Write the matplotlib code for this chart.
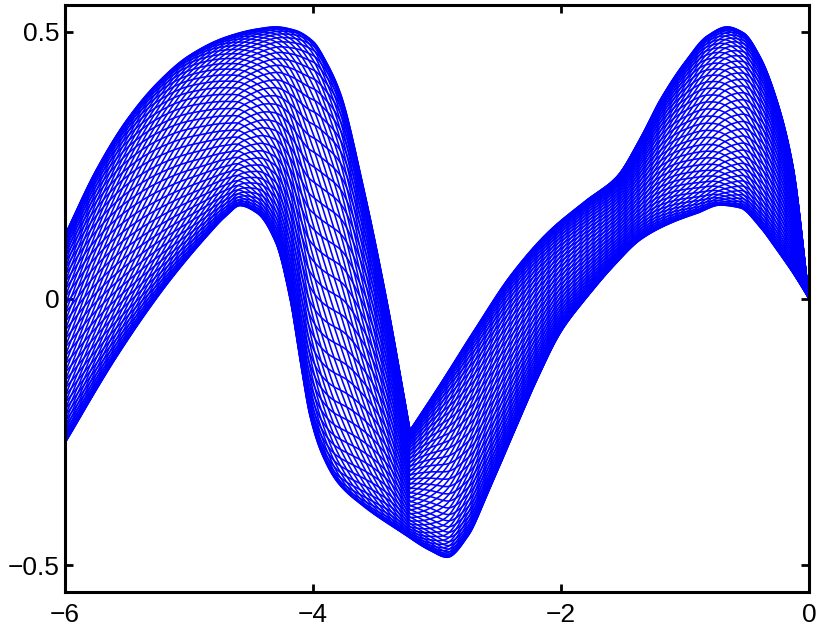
import numpy as np
import matplotlib
matplotlib.use("Agg")
import matplotlib.pyplot as plt

# upper edge of the band (split at the V notch)
upper_left_x = [-6.0, -5.75, -5.5, -5.25, -5.0, -4.7, -4.45, -4.3, -4.15, -4.0,
                -3.89, -3.78, -3.6, -3.4, -3.218]
upper_left_y = [0.119, 0.240, 0.335, 0.405, 0.455, 0.490, 0.505, 0.509, 0.503, 0.482,
                0.442, 0.385, 0.215, -0.010, -0.247]
upper_right_x = [-3.218, -3.0, -2.7, -2.4, -2.1, -1.8, -1.55, -1.36, -1.2, -1.0,
                 -0.82, -0.66, -0.53, -0.395, -0.26, -0.129, 0.0]
upper_right_y = [-0.247, -0.170, -0.060, 0.045, 0.125, 0.183, 0.228, 0.300, 0.372,
                 0.443, 0.492, 0.509, 0.498, 0.453, 0.372, 0.247, 0.0]

# lower edge of the band
lower_x = [-6.0, -5.6, -5.2, -4.9, -4.7, -4.589, -4.45, -4.3, -4.185, -4.1,
           -4.024, -3.93, -3.8, -3.6, -3.274, -3.056, -2.919, -2.75, -2.6,
           -2.4, -2.2, -2.0, -1.8, -1.6, -1.35, -1.1, -0.9, -0.718, -0.556,
           -0.395, -0.258, -0.129, 0.0]
lower_y = [-0.271, -0.115, 0.020, 0.105, 0.155, 0.174, 0.160, 0.105, 0.0, -0.120,
           -0.220, -0.290, -0.345, -0.388, -0.440, -0.472, -0.485, -0.445, -0.370,
           -0.262, -0.155, -0.062, 0.0, 0.055, 0.112, 0.143, 0.160, 0.175, 0.170,
           0.134, 0.091, 0.048, 0.0]

# phase of the oscillation along x (estimated from the crossing pattern)
phase_x = [-6.0, -5.0, -4.0, -3.0, -2.0, -1.0, 0.0]
phase_val = [0.0, 0.8, 1.6, 2.4, 3.2, 4.0, 4.8]

n_curves = 76


def pchip(xk, yk, x):
    xk = np.asarray(xk, float)
    yk = np.asarray(yk, float)
    h = np.diff(xk)
    d = np.diff(yk) / h
    m = np.zeros_like(yk)
    m[0], m[-1] = d[0], d[-1]
    for i in range(1, len(xk) - 1):
        if d[i - 1] * d[i] > 0:
            w1 = 2 * h[i] + h[i - 1]
            w2 = h[i] + 2 * h[i - 1]
            m[i] = (w1 + w2) / (w1 / d[i - 1] + w2 / d[i])
    i = np.clip(np.searchsorted(xk, x) - 1, 0, len(xk) - 2)
    t = (x - xk[i]) / h[i]
    h00 = 2 * t**3 - 3 * t**2 + 1
    h10 = t**3 - 2 * t**2 + t
    h01 = -2 * t**3 + 3 * t**2
    h11 = t**3 - t**2
    return h00 * yk[i] + h10 * h[i] * m[i] + h01 * yk[i + 1] + h11 * h[i] * m[i + 1]


x = np.linspace(-6, 0, 1200)
upper = np.where(x <= upper_left_x[-1],
                 pchip(upper_left_x, upper_left_y, x),
                 pchip(upper_right_x, upper_right_y, x))
lower = pchip(lower_x, lower_y, x)
mid = (upper + lower) / 2
amp = np.clip((upper - lower) / 2, 0, None)
phase = np.interp(x, phase_x, phase_val)

fig = plt.figure(figsize=(8.24, 6.27), dpi=100)
ax = fig.add_axes([65 / 824, 35 / 627, 744 / 824, 587 / 627])

for k in range(n_curves):
    th = 2 * np.pi * k / n_curves
    ax.plot(x, mid + amp * np.cos(th - phase), color=(0, 0, 1), lw=1.15)

ax.set_xlim(-6, 0)
ax.set_ylim(-0.55, 0.55)
ax.set_xticks([-6, -4, -2, 0])
ax.set_yticks([-0.5, 0, 0.5])
ax.set_yticklabels(["\u22120.5", "0", "0.5"])
ax.set_xticklabels(["\u22126", "\u22124", "\u22122", "0"])
for s in ax.spines.values():
    s.set_linewidth(2.2)
ax.tick_params(direction="in", length=5.5, width=2, top=True, right=True,
               labelsize=19, pad=4)
ax.tick_params(axis="x", pad=8)
for lab in ax.get_xticklabels() + ax.get_yticklabels():
    lab.set_family("Liberation Sans")

fig.savefig("out.png", dpi=100)
